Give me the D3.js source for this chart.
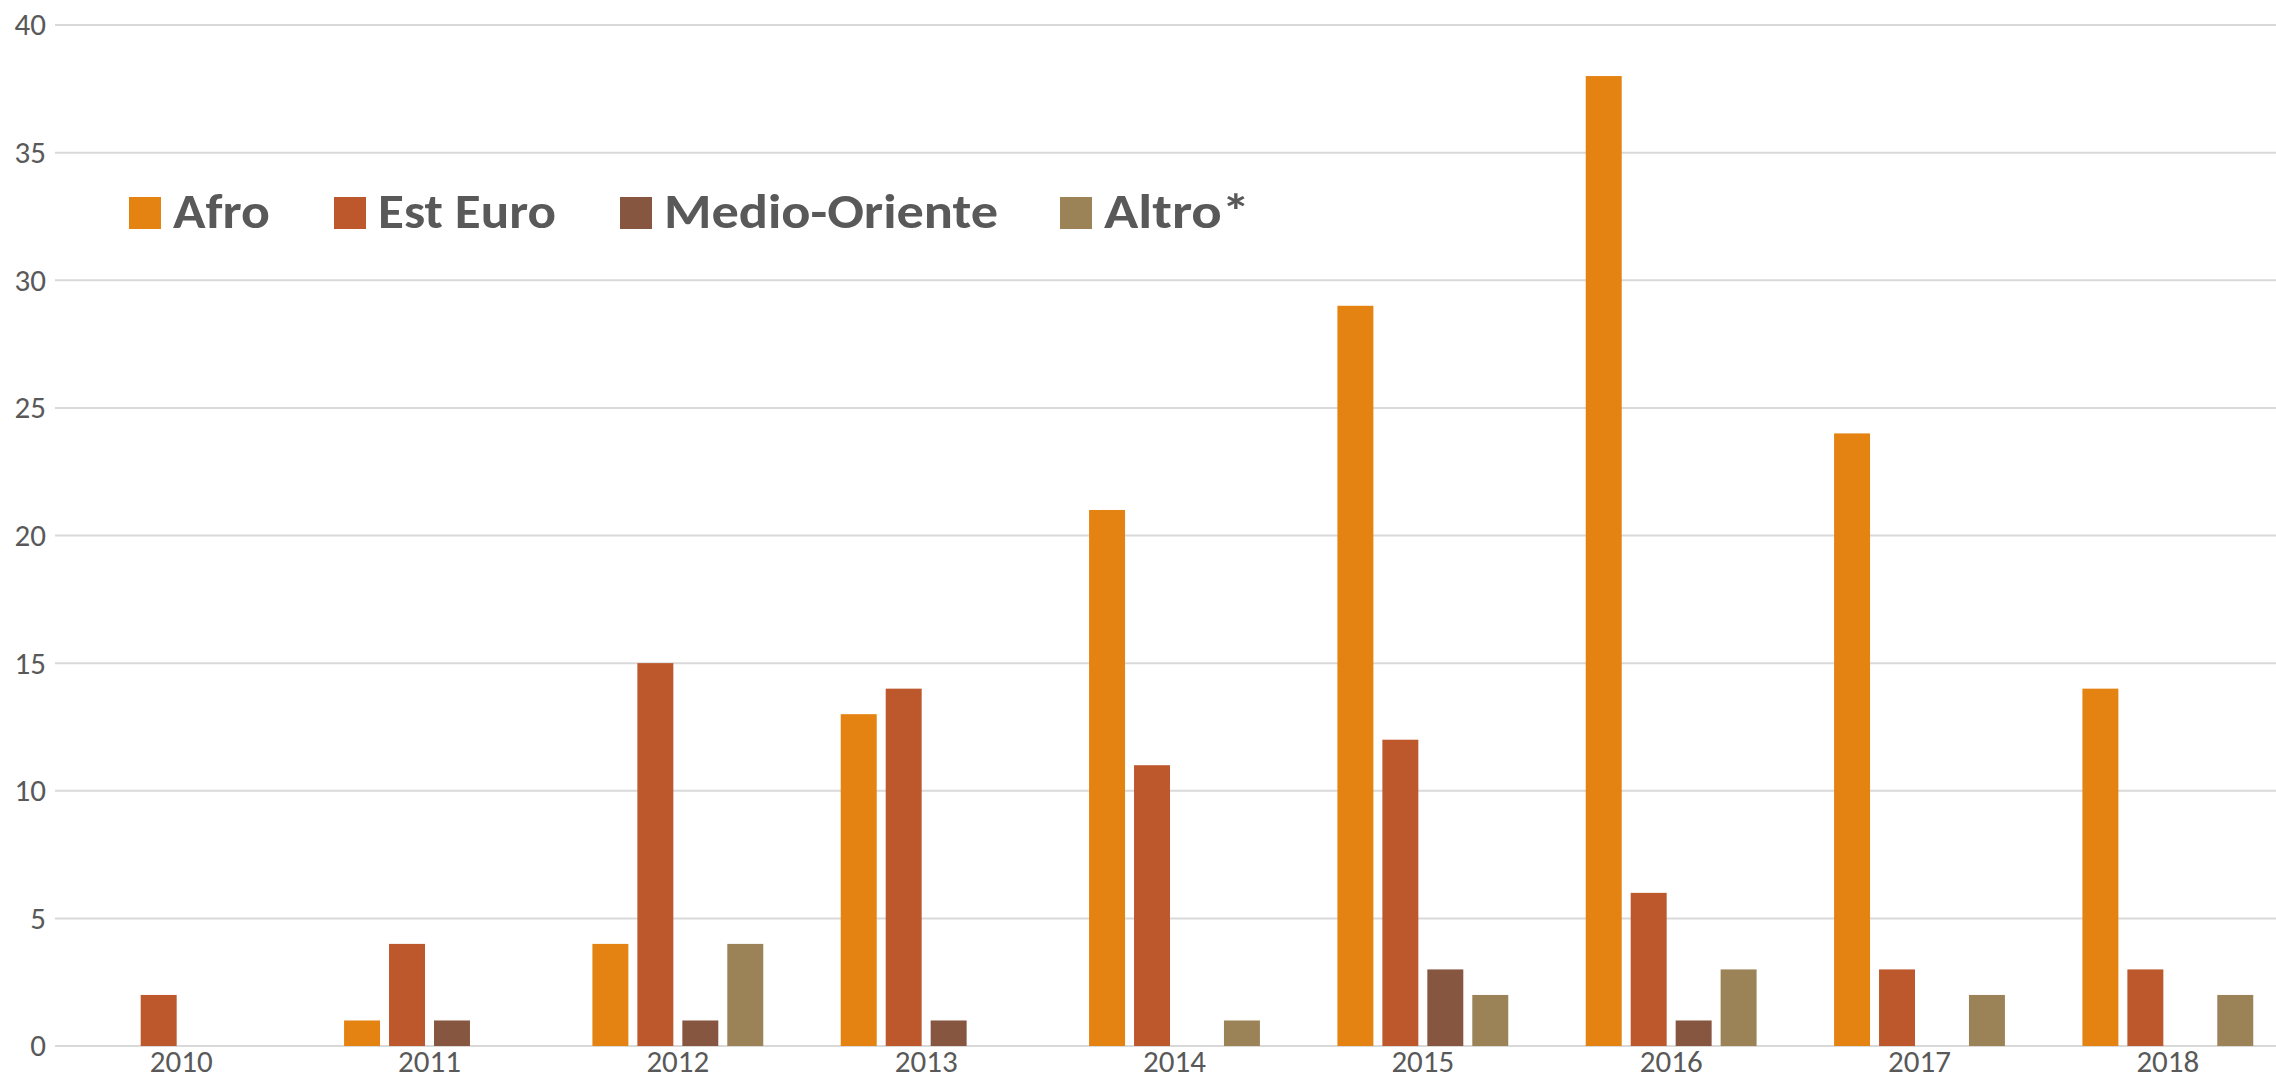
<!DOCTYPE html>
<html>
<head>
<meta charset="utf-8">
<script src="https://cdn.jsdelivr.net/npm/d3@7"></script>
<style>
  html, body { margin: 0; padding: 0; background: #fff; }
  svg { display: block; }
</style>
</head>
<body>
<div id="graph"></div>
<script>
const years = ['2010', '2011', '2012', '2013', '2014', '2015', '2016', '2017', '2018']
const seriesNames = ['Afro', 'Est Euro', 'Medio-Oriente', 'Altro*']
const afro = [0, 1, 4, 13, 21, 29, 38, 24, 14]
const estEuro = [2, 4, 15, 14, 11, 12, 6, 3, 3]
const medioOriente = [0, 1, 1, 1, 0, 3, 1, 0, 0]
const altro = [0, 0, 4, 0, 1, 2, 3, 2, 2]
const yTicks = [0, 5, 10, 15, 20, 25, 30, 35, 40]

const colours = ['#E48312', '#BD582C', '#865640', '#9B8357']
const seriesValues = [afro, estEuro, medioOriente, altro]

const width = 2276, height = 1082
const font = 'Carlito, Lato, "Open Sans", sans-serif'

const svg = d3.select('#graph')
    .append('svg')
    .attr('width', width)
    .attr('height', height)

// rows for grouped bars
const table = years.map((yr, i) => {
    const row = { year: yr }
    seriesNames.forEach((s, j) => { row[s] = seriesValues[j][i] })
    return row
})

const y = d3.scaleLinear().domain([0, 40]).range([1046, 25])

const x0 = d3.scaleBand()
    .domain(years)
    .range([57, 2292])
    .paddingInner(0.312)
    .paddingOuter(0.156)

const x1 = d3.scaleBand()
    .domain(seriesNames)
    .range([0, x0.bandwidth()])
    .paddingInner(0.2)
    .paddingOuter(0)

const colour = d3.scaleOrdinal().domain(seriesNames).range(colours)

// gridlines
svg.append('g')
    .selectAll('line')
    .data(yTicks)
    .enter().append('line')
    .attr('x1', 55)
    .attr('x2', width)
    .attr('y1', d => y(d))
    .attr('y2', d => y(d))
    .attr('stroke', '#D9D9D9')
    .attr('stroke-width', 2)

// y tick labels
const yAxis = svg.append('g')
    .attr('transform', 'translate(46,0)')
    .call(d3.axisLeft(y).tickValues(yTicks).tickSize(0).tickPadding(0))
yAxis.select('.domain').remove()
yAxis.selectAll('text')
    .attr('font-family', font)
    .attr('font-size', 31)
    .attr('fill', '#595959')

// bars
svg.append('g')
    .selectAll('g')
    .data(table)
    .enter().append('g')
    .attr('transform', d => 'translate(' + x0(d.year) + ',0)')
    .selectAll('rect')
    .data(d => seriesNames.map(s => ({ key: s, value: d[s] })))
    .enter().append('rect')
    .attr('x', d => x1(d.key))
    .attr('width', x1.bandwidth())
    .attr('y', d => y(d.value))
    .attr('height', d => y(0) - y(d.value))
    .attr('fill', d => colour(d.key))

// x labels
const xAxis = svg.append('g')
    .attr('transform', 'translate(0,' + 1050 + ')')
    .call(d3.axisBottom(x0).tickSize(0).tickPadding(0))
xAxis.select('.domain').remove()
xAxis.selectAll('text')
    .attr('font-family', font)
    .attr('font-size', 31)
    .attr('fill', '#595959')

// legend
const legendX = [129, 334, 620, 1060]
const legendW = [97, 178, 334, 146]
const legend = svg.append('g')
    .selectAll('g')
    .data(seriesNames)
    .enter().append('g')
    .attr('transform', (d, i) => 'translate(' + legendX[i] + ',0)')
legend.append('rect')
    .attr('x', 0)
    .attr('y', 197)
    .attr('width', 32)
    .attr('height', 32)
    .attr('fill', d => colour(d))
legend.append('text')
    .attr('x', 44)
    .attr('y', 228)
    .attr('font-family', font)
    .attr('font-weight', 'bold')
    .attr('font-size', 48)
    .attr('fill', '#595959')
    .attr('textLength', (d, i) => legendW[i])
    .attr('lengthAdjust', 'spacingAndGlyphs')
    .text(d => d)
</script>
</body>
</html>
